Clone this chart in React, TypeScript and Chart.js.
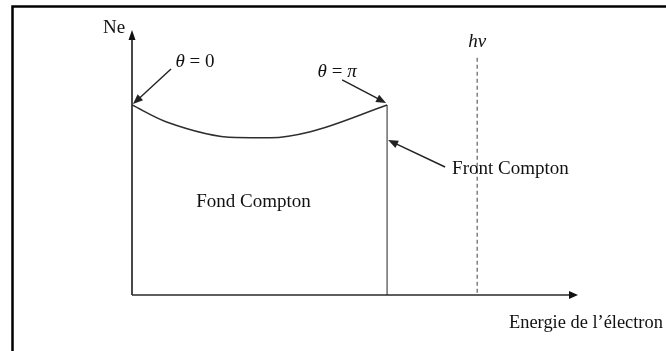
import React, { useEffect, useRef } from "react";
import { Chart, registerables } from "chart.js";

Chart.register(...registerables);

// Electron energy (arbitrary units, axis runs 0..100) and counts Ne (0..100)
const curveEnergy = [0, 7.6, 23.3, 31, 40, 57.2];
const curveCounts = [71.7, 65.4, 59.4, 59.3, 61.6, 71.7];
const comptonEdge = 57.2;
const photonEnergy = 77.4;
const axisMax = { x: 100, y: 100 };

const labels = {
  yAxis: "Ne",
  xAxis: "Energie de l\u2019électron",
  background: "Fond Compton",
  edge: "Front Compton",
};

const FONT = '"Liberation Serif", "Times New Roman", serif';

function arrowHead(ctx: CanvasRenderingContext2D, x1: number, y1: number, x2: number, y2: number, len: number, half: number) {
  const a = Math.atan2(y2 - y1, x2 - x1);
  ctx.beginPath();
  ctx.moveTo(x2, y2);
  ctx.lineTo(x2 - len * Math.cos(a) + half * Math.sin(a), y2 - len * Math.sin(a) - half * Math.cos(a));
  ctx.lineTo(x2 - len * Math.cos(a) - half * Math.sin(a), y2 - len * Math.sin(a) + half * Math.cos(a));
  ctx.closePath();
  ctx.fill();
}

function arrow(ctx: CanvasRenderingContext2D, x1: number, y1: number, x2: number, y2: number, color = "#222") {
  ctx.save();
  ctx.strokeStyle = color;
  ctx.fillStyle = color;
  ctx.lineWidth = 1.4;
  const a = Math.atan2(y2 - y1, x2 - x1);
  ctx.beginPath();
  ctx.moveTo(x1, y1);
  ctx.lineTo(x2 - 6 * Math.cos(a), y2 - 6 * Math.sin(a));
  ctx.stroke();
  arrowHead(ctx, x1, y1, x2, y2, 10, 4);
  ctx.restore();
}

// Draws an expression where some glyphs are italic (math symbols)
function mathText(ctx: CanvasRenderingContext2D, parts: [string, boolean][], x: number, y: number, size: number) {
  ctx.save();
  ctx.textBaseline = "middle";
  ctx.textAlign = "left";
  ctx.fillStyle = "#111";
  let w = 0;
  for (const [t, it] of parts) {
    ctx.font = `${it ? "italic " : ""}${size}px ${FONT}`;
    w += ctx.measureText(t).width;
  }
  let cx = x - w / 2;
  for (const [t, it] of parts) {
    ctx.font = `${it ? "italic " : ""}${size}px ${FONT}`;
    ctx.fillText(t, cx, y);
    cx += ctx.measureText(t).width;
  }
  ctx.restore();
}

const diagramPlugin = {
  id: "comptonDiagram",
  beforeDraw(chart: any) {
    const ctx: CanvasRenderingContext2D = chart.ctx;
    const xs = chart.scales.x;
    const ys = chart.scales.y;
    ctx.save();
    // frame
    ctx.strokeStyle = "#000";
    ctx.lineWidth = 2.5;
    ctx.strokeRect(12.5, 6.5, 700, 400);

    const y0 = ys.getPixelForValue(0);

    // photon energy marker (dashed)
    const xh = xs.getPixelForValue(photonEnergy);
    ctx.strokeStyle = "#777";
    ctx.lineWidth = 1.4;
    ctx.setLineDash([4, 3]);
    ctx.beginPath();
    ctx.moveTo(xh, ys.getPixelForValue(89.5));
    ctx.lineTo(xh, y0);
    ctx.stroke();
    ctx.setLineDash([]);
    ctx.restore();
  },
  afterDraw(chart: any) {
    const ctx: CanvasRenderingContext2D = chart.ctx;
    const xs = chart.scales.x;
    const ys = chart.scales.y;
    const x0 = xs.getPixelForValue(0);
    const y0 = ys.getPixelForValue(0);
    const yTop = ys.getPixelForValue(axisMax.y);
    const xEnd = xs.getPixelForValue(axisMax.x);

    ctx.save();
    // axes
    ctx.strokeStyle = "#2a2a2a";
    ctx.fillStyle = "#111";
    ctx.lineWidth = 1.7;
    ctx.beginPath();
    ctx.moveTo(x0, y0);
    ctx.lineTo(x0, yTop + 6);
    ctx.moveTo(x0, y0);
    ctx.lineTo(xEnd - 6, y0);
    ctx.stroke();
    arrowHead(ctx, x0, y0, x0, yTop, 10, 3.5);
    arrowHead(ctx, x0, y0, xEnd, y0, 9, 4);

    // annotation arrows
    const pStart = { x: xs.getPixelForValue(curveEnergy[0]), y: ys.getPixelForValue(curveCounts[0]) };
    const last = curveEnergy.length - 1;
    const pEnd = { x: xs.getPixelForValue(curveEnergy[last]), y: ys.getPixelForValue(curveCounts[last]) };
    const xEdge = xs.getPixelForValue(comptonEdge);
    arrow(ctx, pStart.x + 39, pStart.y - 36, pStart.x + 1, pStart.y - 1);
    arrow(ctx, pEnd.x - 45, pEnd.y - 25, pEnd.x - 1, pEnd.y - 2);
    arrow(ctx, xEdge + 58, pEnd.y + 62, xEdge + 1, pEnd.y + 35);

    // texts
    ctx.fillStyle = "#111";
    ctx.textBaseline = "middle";
    ctx.font = `19px ${FONT}`;
    ctx.textAlign = "left";
    ctx.fillText(labels.yAxis, x0 - 29, yTop - 2);
    ctx.fillText(labels.edge, xEdge + 65, pEnd.y + 64);
    ctx.font = `18.4px ${FONT}`;
    ctx.fillText(labels.xAxis, xEnd - 69, y0 + 28);
    ctx.font = `19px ${FONT}`;
    ctx.textAlign = "center";
    ctx.fillText(labels.background, (x0 + xEdge) / 2 - 6, ys.getPixelForValue(35));
    mathText(ctx, [["\u03B8", true], [" = 0", false]], pStart.x + 63, pStart.y - 43, 19);
    mathText(ctx, [["\u03B8", true], [" = ", false], ["\u03C0", true]], pEnd.x - 50, pEnd.y - 33, 19);
    mathText(ctx, [["h\u03BD", true]], xs.getPixelForValue(photonEnergy), ys.getPixelForValue(95.3), 19);
    ctx.restore();
  },
};

export default function App() {
  const ref = useRef<HTMLCanvasElement | null>(null);

  useEffect(() => {
    if (!ref.current) return;
    const curve = curveEnergy.map((x, i) => ({ x, y: curveCounts[i] }));
    const edge = [
      { x: comptonEdge, y: curveCounts[curveCounts.length - 1] },
      { x: comptonEdge, y: 0 },
    ];
    const chart = new Chart(ref.current, {
      type: "line",
      data: {
        datasets: [
          {
            data: curve,
            borderColor: "#2e2e2e",
            borderWidth: 1.5,
            pointRadius: 0,
            cubicInterpolationMode: "monotone",
            fill: false,
          },
          {
            data: edge,
            borderColor: "#777",
            borderWidth: 1.6,
            pointRadius: 0,
            tension: 0,
            fill: false,
          },
        ],
      },
      options: {
        animation: false,
        responsive: false,
        maintainAspectRatio: false,
        layout: { padding: { left: 132, right: 88, top: 30, bottom: 56 } },
        plugins: { legend: { display: false }, tooltip: { enabled: false } },
        scales: {
          x: { type: "linear", min: 0, max: axisMax.x, display: false },
          y: { type: "linear", min: 0, max: axisMax.y, display: false },
        },
      },
      plugins: [diagramPlugin],
    });
    return () => chart.destroy();
  }, []);

  return (
    <div style={{ position: "fixed", left: 0, top: 0, width: 666, height: 351, background: "#fff" }}>
      <canvas ref={ref} width={666} height={351} style={{ width: 666, height: 351 }} />
    </div>
  );
}
